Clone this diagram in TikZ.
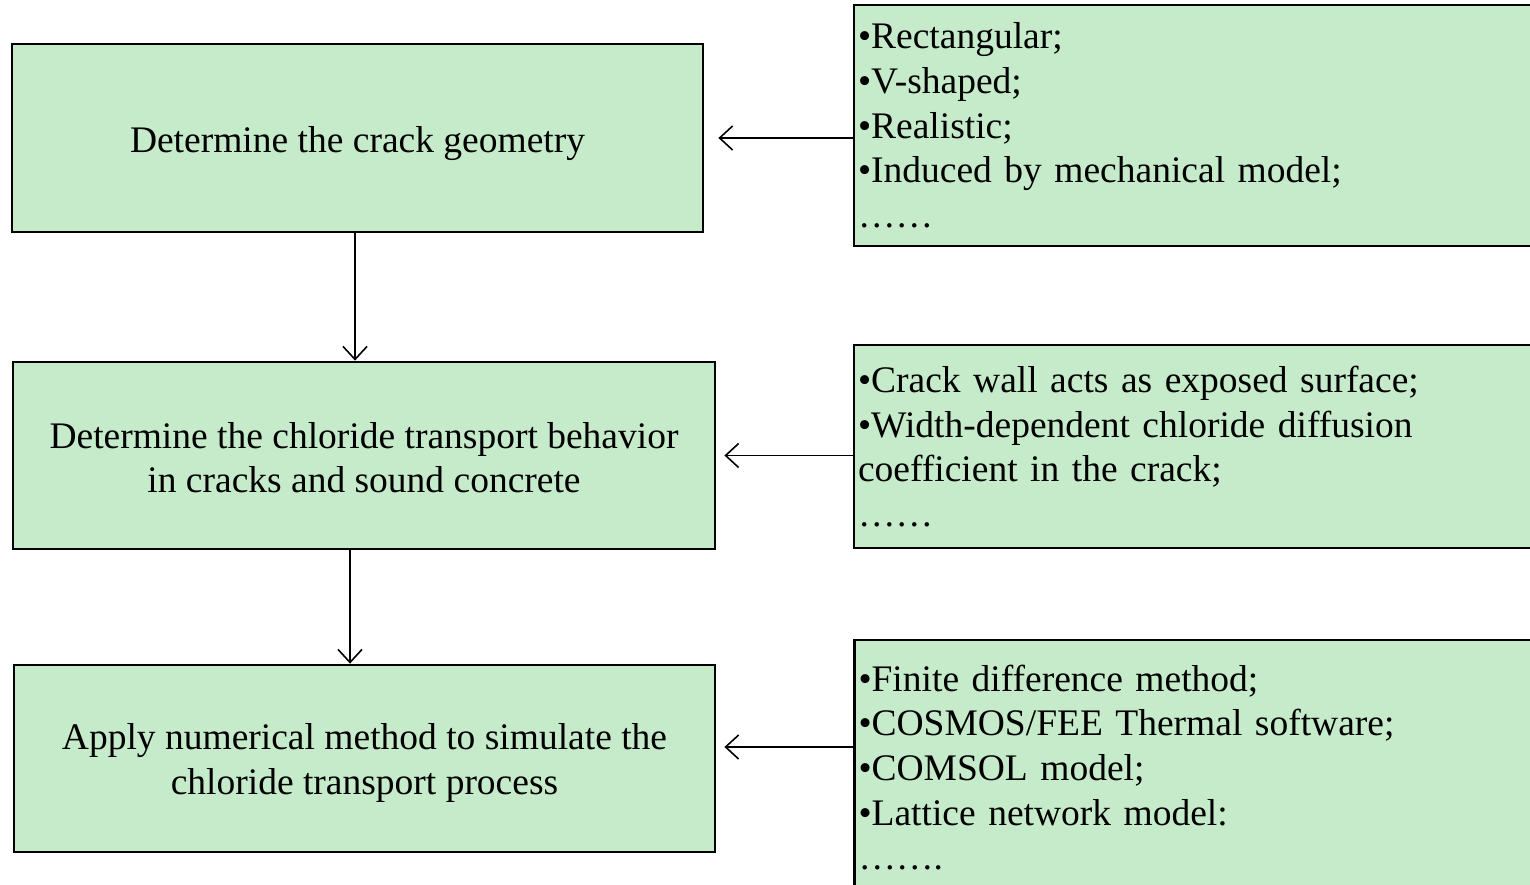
\documentclass[tikz,border=0pt]{standalone}
\usepackage{fontspec}
\setmainfont{Liberation Serif}
\usetikzlibrary{arrows.meta}
\definecolor{boxgreen}{RGB}{198,235,203}
\tikzset{
	stepbox/.style={draw,line width=2.8pt,fill=boxgreen,inner sep=0pt,align=center},
	listbox/.style={draw,line width=2.8pt,fill=boxgreen,inner xsep=4pt,inner ysep=0pt,text width=678pt,align=left,minimum width=686pt},
	flow/.style={line width=1.6pt,-{Straight Barb[length=13pt,width=24pt,line width=1.6pt]}}
}
\begin{document}
\begin{tikzpicture}[x=1pt,y=-1pt,font=\fontsize{37.5}{44.7}\selectfont]
	\useasboundingbox (0,0) rectangle (1530,885);
	% steps on the left
	\node[stepbox,minimum width=691pt,minimum height=188pt] (geom) at (357.5,138) {\rule{0pt}{37.5pt}Determine the crack geometry};
	\node[stepbox,minimum width=702pt,minimum height=187pt] (trans) at (364,455.5) {\rule{0pt}{30.5pt}Determine the chloride transport behavior\\in cracks and sound concrete};
	\node[stepbox,minimum width=701pt,minimum height=187pt] (apply) at (364.5,758.5) {\rule{0pt}{35.5pt}Apply numerical method to simulate the\\chloride transport process};
	% options on the right
	\node[listbox,minimum height=241pt] (shapes) at (1197,125.5) {•Rectangular;\\•V-shaped;\\•Realistic;\\•Induced by mechanical model;\\……};
	\node[listbox,minimum height=203pt] (models) at (1197,446.5) {•Crack wall acts as exposed surface;\\•Width-dependent chloride diffusion\\coefficient in the crack;\\……};
	\node[listbox,minimum height=255pt] (methods) at (1197.5,767.5) {•Finite difference method;\\•COSMOS/FEE Thermal software;\\•COMSOL model;\\•Lattice network model:\\…….};
	% connectors
	\draw[flow] ([xshift=-2.5pt]geom.south) -- ([xshift=-2.5pt]geom.south |- trans.north);
	\draw[flow] ([xshift=-14pt]trans.south) -- ([xshift=-14pt]trans.south |- apply.north);
	\draw[flow] (shapes.west |- geom.east) -- ([xshift=14pt]geom.east);
	\draw[flow] (models.west |- trans.east) -- ([xshift=8pt]trans.east);
	\draw[flow] (methods.west |- 0,747) -- ([xshift=8pt,yshift=11.5pt]apply.east);
\end{tikzpicture}
\end{document}
